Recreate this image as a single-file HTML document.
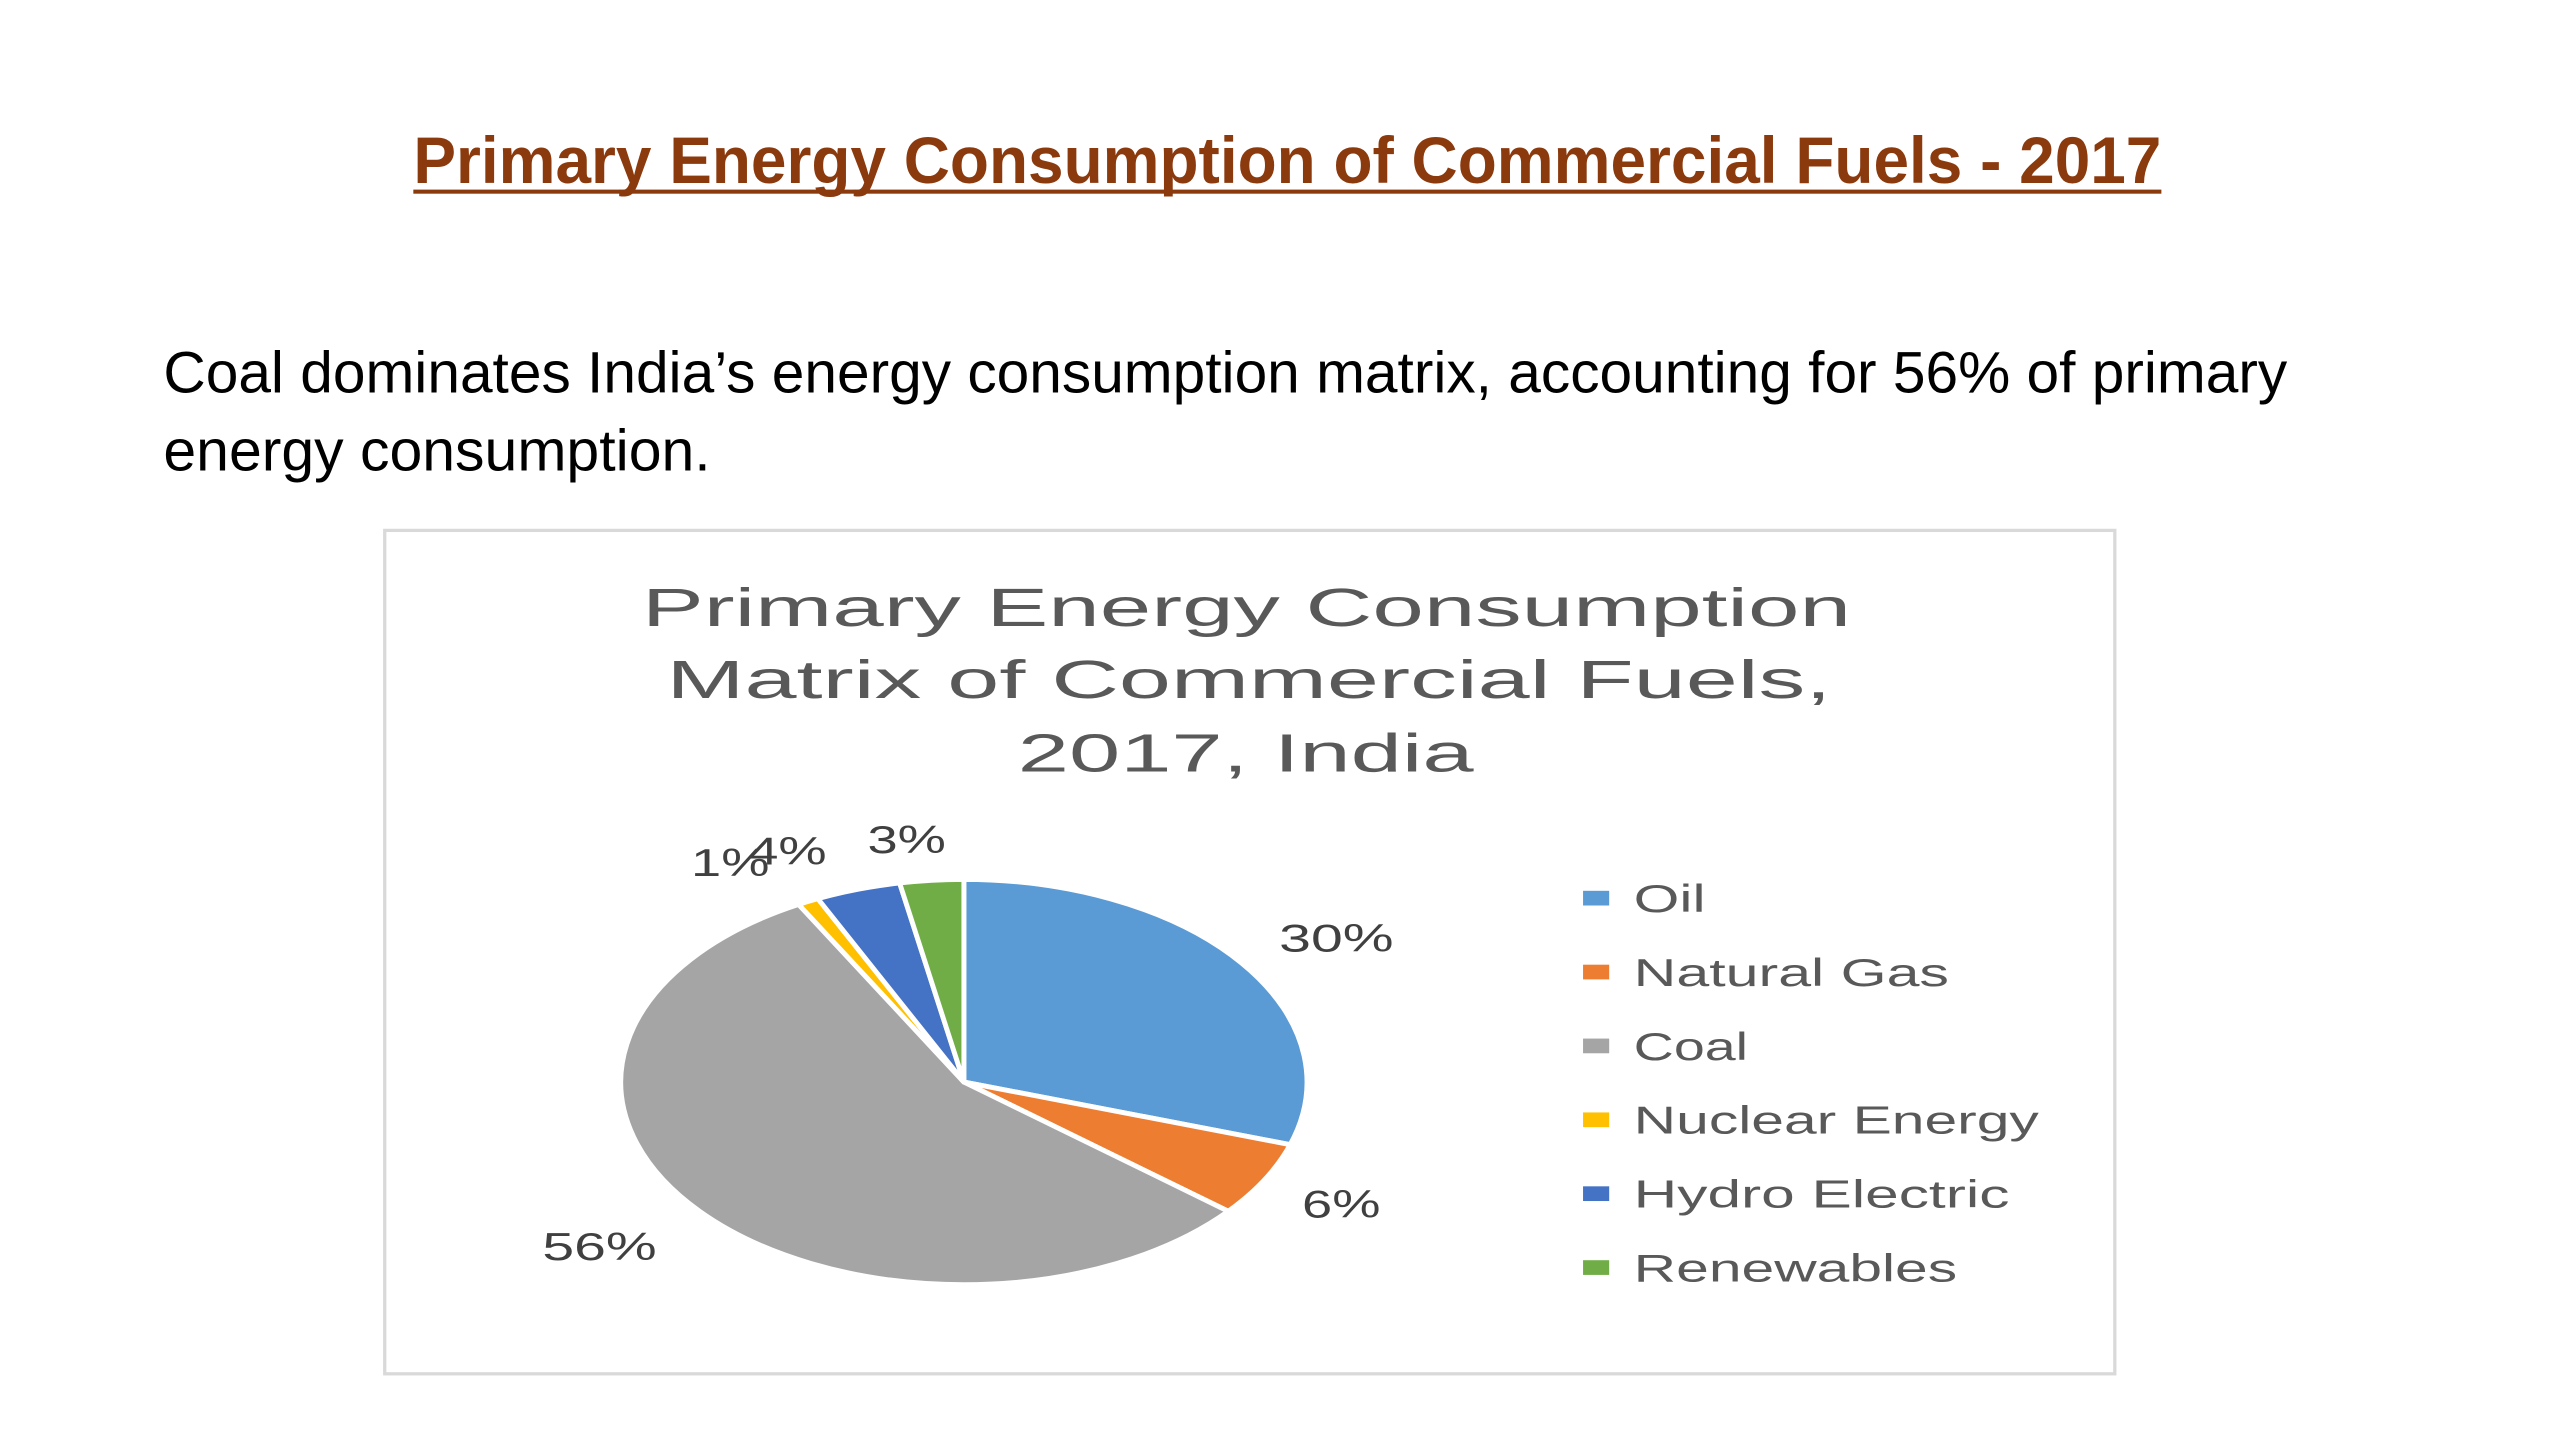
<!DOCTYPE html>
<html><head><meta charset="utf-8"><style>
html,body{margin:0;padding:0;background:#fff;}
svg{display:block;}
</style></head><body>
<svg id="chart" xmlns="http://www.w3.org/2000/svg" width="2560" height="1440" viewBox="0 0 1567 881" preserveAspectRatio="none">
<rect x="0" y="0" width="1567" height="881" fill="#fff"/>
<text x="253" y="112" font-family="Liberation Sans, sans-serif" font-weight="bold" font-size="40" fill="#8B3A0E" textLength="1070" lengthAdjust="spacingAndGlyphs">Primary Energy Consumption of Commercial Fuels - 2017</text>
<rect x="253" y="116" width="1070" height="2.5" fill="#8B3A0E"/>
<text x="100" y="240" font-family="Liberation Sans, sans-serif" font-size="36" fill="#000" textLength="1300" lengthAdjust="spacingAndGlyphs">Coal dominates India’s energy consumption matrix, accounting for 56% of primary</text>
<text x="100" y="288" font-family="Liberation Sans, sans-serif" font-size="36" fill="#000" textLength="335" lengthAdjust="spacingAndGlyphs">energy consumption.</text>
<rect x="235.5" y="324.5" width="1059" height="516" fill="#fff" stroke="#d9d9d9" stroke-width="2"/>
<g font-family="Liberation Sans, sans-serif" font-size="33" fill="#595959">
<text x="393" y="383" textLength="740" lengthAdjust="spacingAndGlyphs">Primary Energy Consumption</text>
<text x="408" y="427" textLength="713" lengthAdjust="spacingAndGlyphs">Matrix of Commercial Fuels,</text>
<text x="623" y="472" textLength="279" lengthAdjust="spacingAndGlyphs">2017, India</text>
</g>
<g id="pie"></g>
<g id="labels" font-family="Liberation Sans, sans-serif" font-size="24" fill="#404040"></g>
<g id="legend" font-family="Liberation Sans, sans-serif" font-size="24" fill="#595959"></g>
</svg>
<script>
const categories = ["Oil","Natural Gas","Coal","Nuclear Energy","Hydro Electric","Renewables"];
const values = [30, 6, 56, 1, 4, 3];
const valueLabels = ["30%","6%","56%","1%","4%","3%"];
const colors = ["#5B9BD5","#ED7D31","#A5A5A5","#FFC000","#4472C4","#70AD47"];
const labelPos = [[783,582],[797,745],[332,771],[423,536],[458,529],[531,522]];
const NS = "http://www.w3.org/2000/svg";
const cx = 590, cy = 662, rx = 210, ry = 124;
function pt(frac){const a=frac*2*Math.PI;return [cx+rx*Math.sin(a), cy-ry*Math.cos(a)];}
const total = values.reduce((a,b)=>a+b,0);
const pie = document.getElementById('pie');
let acc = 0;
values.forEach((v,i)=>{
  const f0 = acc/total, f1 = (acc+v)/total; acc += v;
  const p0 = pt(f0), p1 = pt(f1);
  const large = (f1-f0) > 0.5 ? 1 : 0;
  const path = document.createElementNS(NS,'path');
  path.setAttribute('d',`M${cx},${cy} L${p0[0]},${p0[1]} A${rx},${ry} 0 ${large} 1 ${p1[0]},${p1[1]} Z`);
  path.setAttribute('fill',colors[i]);
  path.setAttribute('stroke','#fff');
  path.setAttribute('stroke-width','3');
  path.setAttribute('stroke-linejoin','round');
  
  
  pie.appendChild(path);
});
const labels = document.getElementById('labels');
valueLabels.forEach((t,i)=>{
  const el = document.createElementNS(NS,'text');
  el.setAttribute('x',labelPos[i][0]);
  el.setAttribute('y',labelPos[i][1]);
  el.setAttribute('textLength', t.length===3?70:48);
  el.setAttribute('lengthAdjust','spacingAndGlyphs');
  el.textContent = t;
  
  
  labels.appendChild(el);
});
const legend = document.getElementById('legend');
const legendWidths = [44,193,70,248,230,198];
categories.forEach((c,i)=>{
  const y = 549 + i*45.2;
  const g = document.createElementNS(NS,'g');
  
  
  const r = document.createElementNS(NS,'rect');
  r.setAttribute('x',969); r.setAttribute('y',y-4); r.setAttribute('width',16); r.setAttribute('height',9);
  r.setAttribute('fill',colors[i]);
  const t = document.createElementNS(NS,'text');
  t.setAttribute('x',1000); t.setAttribute('y',y+9);
  t.setAttribute('textLength',legendWidths[i]);
  t.setAttribute('lengthAdjust','spacingAndGlyphs');
  t.textContent = c;
  g.appendChild(r); g.appendChild(t);
  legend.appendChild(g);
});
</script>
</body></html>
